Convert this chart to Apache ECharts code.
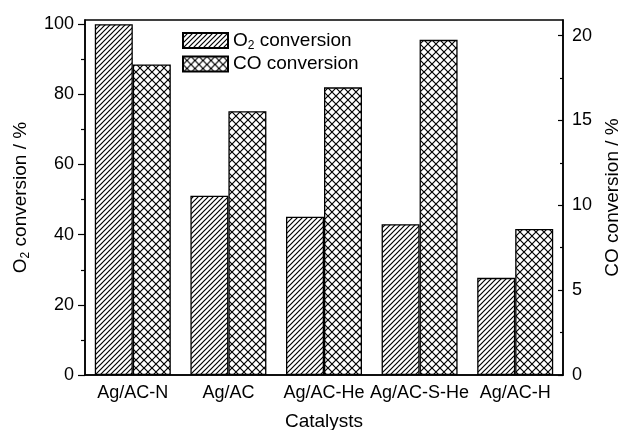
<!DOCTYPE html>
<html>
<head>
<meta charset="utf-8">
<script src="https://cdn.jsdelivr.net/npm/echarts@6/dist/echarts.min.js"></script>
<style>
html,body{margin:0;padding:0;background:#fff;}
#c{width:618px;height:430px;}
</style>
</head>
<body>
<div id="c"></div>
<script>
const categories = ['Ag/AC-N', 'Ag/AC', 'Ag/AC-He', 'Ag/AC-S-He', 'Ag/AC-H'];
const o2Conversion = [100, 51.1, 45.1, 43.0, 27.7];
const coConversion = [18.3, 15.55, 16.95, 19.75, 8.6];
const leftTicks = [0, 20, 40, 60, 80, 100];
const leftMinorTicks = [10, 30, 50, 70, 90];
const rightTicks = [0, 5, 10, 15, 20];
const rightMinorTicks = [2.5, 7.5, 12.5, 17.5];

function hatchPattern() {
  const s = 5;
  const c = document.createElement('canvas');
  c.width = s; c.height = s;
  const g = c.getContext('2d');
  g.fillStyle = '#fff'; g.fillRect(0, 0, s, s);
  g.strokeStyle = '#000'; g.lineWidth = 1.2;
  g.beginPath();
  g.moveTo(-1, s + 1); g.lineTo(s + 1, -1);
  g.moveTo(-1, 1); g.lineTo(1, -1);
  g.moveTo(s - 1, s + 1); g.lineTo(s + 1, s - 1);
  g.stroke();
  return c;
}
function crossPattern() {
  const s = 8;
  const c = document.createElement('canvas');
  c.width = s; c.height = s;
  const g = c.getContext('2d');
  g.fillStyle = '#fff'; g.fillRect(0, 0, s, s);
  g.strokeStyle = '#000'; g.lineWidth = 1.2;
  g.beginPath();
  g.moveTo(-1, s + 1); g.lineTo(s + 1, -1);
  g.moveTo(-1, -1); g.lineTo(s + 1, s + 1);
  g.stroke();
  return c;
}

const FONT = '"Liberation Sans", Arial, sans-serif';
const rich = {
  a: { fontSize: 19, fontFamily: FONT, color: '#000', lineHeight: 22, verticalAlign: 'middle' },
  s: { fontSize: 12, fontFamily: FONT, color: '#000', lineHeight: 22, verticalAlign: 'bottom' }
};

const chart = echarts.init(document.getElementById('c'), null, { renderer: 'canvas' });
const LMAX = 101.2, RMAX = 20.92;
chart.setOption({
  animation: false,
  backgroundColor: '#fff',
  textStyle: { fontFamily: FONT, color: '#000' },
  grid: { left: 85, right: 55, top: 20, bottom: 55, show: true, borderColor: '#000', borderWidth: 1.5, outerBoundsMode: 'none', containLabel: false },
  legend: {
    left: 177, top: 26, orient: 'vertical', icon: 'rect',
    itemWidth: 45, itemHeight: 15, itemGap: 3,
    data: ['O2 conversion', 'CO conversion'],
    formatter: function (n) { return n === 'O2 conversion' ? '{a|O}{s|2}{a| conversion}' : '{a|CO conversion}'; },
    textStyle: { rich: rich }
  },
  xAxis: {
    type: 'category', data: categories,
    name: 'Catalysts', nameLocation: 'middle', nameGap: 37,
    nameTextStyle: { fontSize: 19, color: '#000', fontFamily: FONT },
    axisLine: { lineStyle: { color: '#000', width: 1.5 } },
    axisTick: { alignWithLabel: true, length: 6, lineStyle: { color: '#000', width: 1.2 } },
    axisLabel: { interval: 0, fontSize: 18, color: '#000', margin: 9, fontFamily: FONT },
    splitLine: { show: false }
  },
  yAxis: [
    {
      type: 'value', min: 0, max: LMAX, position: 'left',
      name: '{a|O}{s|2}{a| conversion / %}', nameLocation: 'middle', nameGap: 53, nameRotate: 90,
      nameTextStyle: { rich: rich },
      axisLine: { show: true, lineStyle: { color: '#000', width: 1.5 } },
      axisTick: { show: true, length: 7, customValues: leftTicks, lineStyle: { color: '#000', width: 1.2 } },
      axisLabel: { fontSize: 18, color: '#000', margin: 11, customValues: leftTicks, fontFamily: FONT },
      splitLine: { show: false }
    },
    {
      type: 'value', min: 0, max: RMAX, position: 'right',
      name: 'CO conversion / %', nameLocation: 'middle', nameGap: 36, nameRotate: 90,
      nameTextStyle: { fontSize: 19, color: '#000', fontFamily: FONT },
      axisLine: { show: true, lineStyle: { color: '#000', width: 1.5 } },
      axisTick: { show: true, inside: true, length: 5, customValues: rightTicks, lineStyle: { color: '#000', width: 1.2 } },
      axisLabel: { fontSize: 18, color: '#000', margin: 9, customValues: rightTicks, fontFamily: FONT },
      splitLine: { show: false }
    },
    {
      type: 'value', min: 0, max: LMAX, position: 'left',
      axisLine: { show: false },
      axisTick: { show: true, length: 4, customValues: leftMinorTicks, lineStyle: { color: '#000', width: 1.2 } },
      axisLabel: { show: false },
      splitLine: { show: false }
    },
    {
      type: 'value', min: 0, max: RMAX, position: 'right',
      axisLine: { show: false },
      axisTick: { show: true, inside: true, length: 3, customValues: rightMinorTicks, lineStyle: { color: '#000', width: 1.2 } },
      axisLabel: { show: false },
      splitLine: { show: false }
    }
  ],
  series: [
    {
      name: 'O2 conversion', type: 'bar', yAxisIndex: 0, data: o2Conversion,
      barWidth: 38, barGap: '0%',
      itemStyle: { color: { image: hatchPattern(), repeat: 'repeat' }, borderColor: '#000', borderWidth: 1.3 }
    },
    {
      name: 'CO conversion', type: 'bar', yAxisIndex: 1, data: coConversion,
      barWidth: 38, barGap: '0%',
      itemStyle: { color: { image: crossPattern(), repeat: 'repeat' }, borderColor: '#000', borderWidth: 1.3 }
    }
  ]
});
</script>
</body>
</html>
